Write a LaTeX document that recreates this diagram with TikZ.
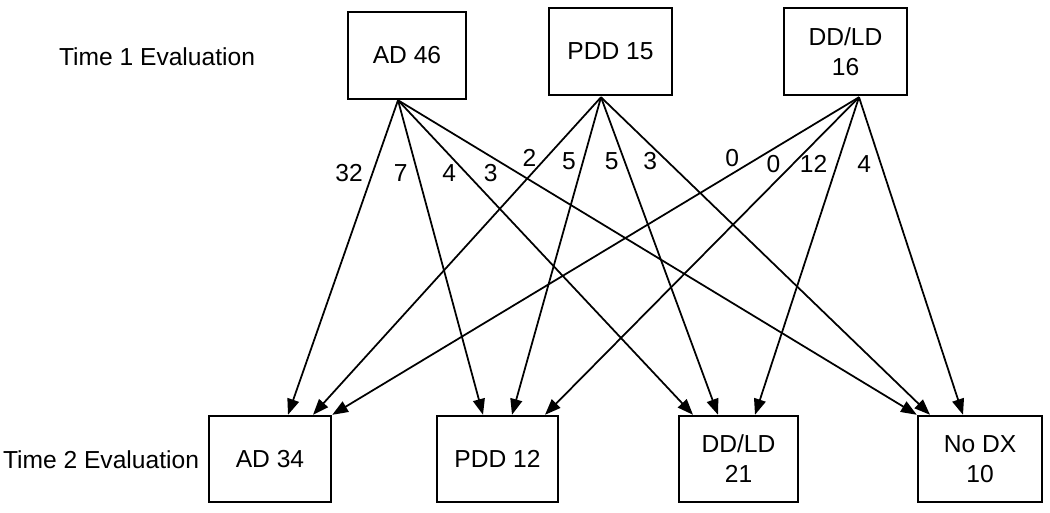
\documentclass[tikz,border=0pt]{standalone}
\usepackage{fontspec}
\setmainfont{Liberation Sans}
\usetikzlibrary{arrows.meta,calc}
\tikzstyle{diagBox}=[shape = rectangle, draw, line width = 1.4pt, align = center, inner sep = 0pt]
\tikzstyle{flowEdge}=[draw, line width = 1pt, -{Triangle[length = 9pt, width = 6.8pt]}]
\tikzstyle{countLabel}=[anchor = east, inner sep = 0pt, xshift = -1.8mm]

\begin{document}
\begin{tikzpicture}[x = 0.02cm, y = -0.02cm, font = \fontsize{14}{17}\selectfont]
\useasboundingbox (0,0) rectangle (1050,512);
% row labels
\node (t1) at (157,57) {Time 1 Evaluation};
\node (t2) at (101,460) {Time 2 Evaluation};
% time 1 boxes
\node[diagBox, minimum width = 118*0.2mm, minimum height = 87*0.2mm] (ad1) at (407,55.5) {AD 46};
\node[diagBox, minimum width = 123*0.2mm, minimum height = 87*0.2mm] (pdd1) at (610.5,51.5) {PDD 15};
\node[diagBox, minimum width = 123*0.2mm, minimum height = 87*0.2mm] (dd1) at (845.5,51.5) {DD/LD\\16};
% time 2 boxes
\node[diagBox, minimum width = 122*0.2mm, minimum height = 86*0.2mm] (ad2) at (270,459) {AD 34};
\node[diagBox, minimum width = 121*0.2mm, minimum height = 86*0.2mm] (pdd2) at (497.5,459) {PDD 12};
\node[diagBox, minimum width = 119*0.2mm, minimum height = 86*0.2mm] (dd2) at (738.5,459) {DD/LD\\21};
\node[diagBox, minimum width = 124*0.2mm, minimum height = 86*0.2mm] (nodx2) at (980,459) {No DX\\10};
% start points
\coordinate (ad1s) at ($(ad1.south)+(-9,0)$);
\coordinate (pdd1s) at ($(pdd1.south)+(-9.5,1)$);
\coordinate (dd1s) at ($(dd1.south)+(13.5,1)$);
% from AD 46
\draw[flowEdge] (ad1s) -- node[countLabel, pos = 0.23] {32} ($(ad2.north)+(18,0)$);
\draw[flowEdge] (ad1s) -- node[countLabel, pos = 0.23] {7} ($(pdd2.north)+(-14.5,0)$);
\draw[flowEdge] (ad1s) -- node[countLabel, pos = 0.23] {4} ($(dd2.north)+(-45.5,0)$);
\draw[flowEdge] (ad1s) -- node[countLabel, pos = 0.23, xshift = -2mm] {3} (nodx2.north west);
% from PDD 15
\draw[flowEdge] (pdd1s) -- node[countLabel, pos = 0.19] {2} ($(ad2.north)+(43,0)$);
\draw[flowEdge] (pdd1s) -- node[countLabel, pos = 0.2, xshift = 0.5mm] {5} ($(pdd2.north)+(14.5,0)$);
\draw[flowEdge] (pdd1s) -- node[countLabel, pos = 0.2, xshift = 0.8mm] {5} ($(dd2.north)+(-20.5,0)$);
\draw[flowEdge] (pdd1s) -- node[countLabel, pos = 0.2] {3} ($(nodx2.north)+(-50,0)$);
% from DD/LD 16
\draw[flowEdge] (dd1s) -- node[countLabel, pos = 0.19, xshift = -2mm] {0} (ad2.north east);
\draw[flowEdge] (dd1s) -- node[countLabel, pos = 0.21, xshift = -0.6mm] {0} ($(pdd2.north)+(47.5,0)$);
\draw[flowEdge] (dd1s) -- node[countLabel, pos = 0.21] {12} ($(dd2.north)+(16.5,0)$);
\draw[flowEdge] (dd1s) -- node[countLabel, pos = 0.21] {4} ($(nodx2.north)+(-17,0)$);
\end{tikzpicture}
\end{document}
